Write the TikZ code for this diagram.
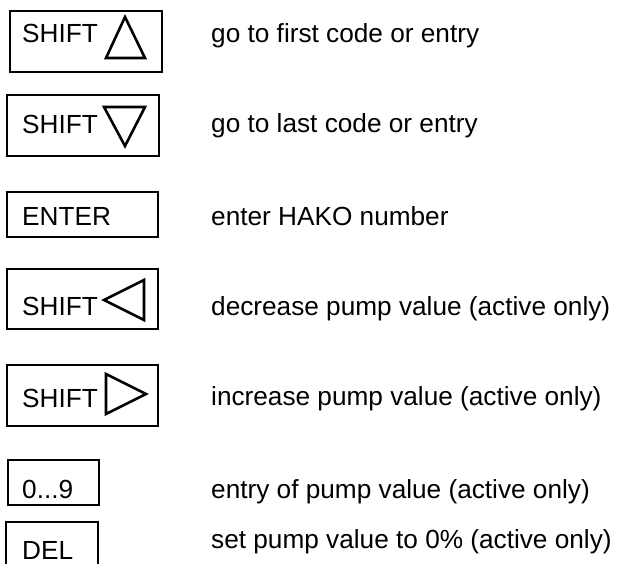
\documentclass[tikz,border=0pt]{standalone}
\usepackage{fontspec}
\setmainfont{Liberation Sans}
\usepackage{tikz}
\usetikzlibrary{positioning}
\tikzset{
    keybox/.style={draw, line width=2pt, anchor=north west, inner sep=0pt},
    keytext/.style={anchor=base west, inner sep=0pt, font=\fontsize{26.2}{30}\selectfont},
    desc/.style={anchor=base west, inner sep=0pt, font=\fontsize{26.2}{30}\selectfont},
    tri/.style={draw, line width=2.6pt, line join=miter},
}

\begin{document}
\begin{tikzpicture}[x=1pt, y=-1pt]
                \useasboundingbox (0,0) rectangle (617,563);
                \clip (0,0) rectangle (617,563);
                % keys
                \node[keybox, minimum width=152pt, minimum height=61pt] (kfirst) at (9,10) {};
                \node[keytext] (sfirst) at (22,42) {SHIFT};
                \draw[tri] (106,58) -- (125,17) -- (145,58) -- cycle;
                \node[keybox, minimum width=152pt, minimum height=61pt] (klast) at (6,94) {};
                \node[keytext] (slast) at (22,133) {SHIFT};
                \draw[tri] (104,107) -- (145,107) -- (125,146) -- cycle;
                \node[keybox, minimum width=151pt, minimum height=45pt] (kenter) at (6,191) {};
                \node[keytext] (senter) at (22,225) {ENTER};
                \node[keybox, minimum width=151pt, minimum height=60pt] (kdec) at (6,268) {};
                \node[keytext] (sdec) at (22,315) {SHIFT};
                \draw[tri] (144,280) -- (104,300) -- (144,320) -- cycle;
                \node[keybox, minimum width=151pt, minimum height=61pt] (kinc) at (6,364) {};
                \node[keytext] (sinc) at (22,407) {SHIFT};
                \draw[tri] (106,374) -- (146,394) -- (106,414) -- cycle;
                \node[keybox, minimum width=91pt, minimum height=45pt] (knum) at (7,459) {};
                \node[keytext] (snum) at (22,498) {0...9};
                \node[keybox, minimum width=92pt, minimum height=60pt] (kdel) at (5,521) {};
                \node[keytext] (sdel) at (22,559) {DEL};
                % descriptions
                \node[desc] (dfirst) at (211,42) {go to first code or entry};
                \node[desc] (dlast) at (211,132) {go to last code or entry};
                \node[desc] (denter) at (211,225) {enter HAKO number};
                \node[desc] (ddec) at (211,315) {decrease pump value (active only)};
                \node[desc] (dinc) at (211,405) {increase pump value (active only)};
                \node[desc] (dnum) at (211,498) {entry of pump value (active only)};
                \node[desc] (ddel) at (211,548) {set pump value to 0\% (active only)};
            \end{tikzpicture}
\end{document}
